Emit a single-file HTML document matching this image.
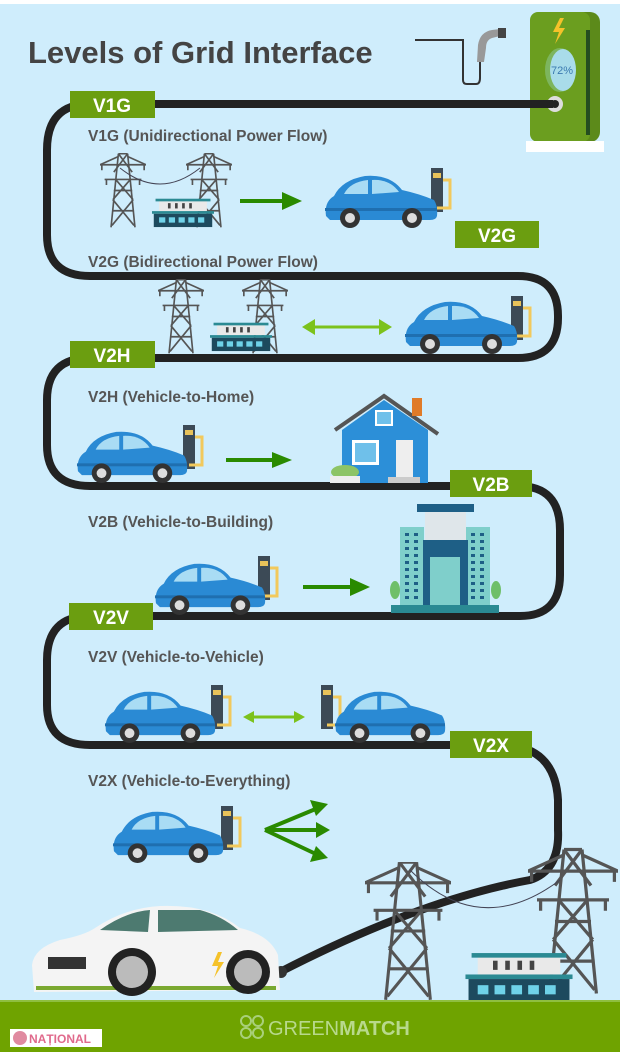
<!DOCTYPE html>
<html><head><meta charset="utf-8"><style>
html,body{margin:0;padding:0;}
body{width:620px;height:1052px;overflow:hidden;background:#cfedfc;font-family:"Liberation Sans",sans-serif;}
svg{display:block}
</style></head><body>
<svg width="620" height="1052" viewBox="0 0 620 1052" xmlns="http://www.w3.org/2000/svg">
<defs>
<symbol id="car" viewBox="0 0 120 56">
 <path d="M6,44 Q4,30 14,24 Q22,8 45,4 Q70,2 82,18 Q100,22 114,28 Q118,34 117,44 Q116,48 110,48 L10,48 Z" fill="#2a8ad4"/>
 <path d="M24,22 Q30,10 48,8 L48,22 Z" fill="#a9dcf4"/>
 <path d="M52,8 Q70,7 79,20 L52,22 Z" fill="#a9dcf4"/>
 <rect x="5" y="36" width="112" height="3" fill="#1f6fb0"/>
 <circle cx="30" cy="46" r="10" fill="#333"/><circle cx="30" cy="46" r="5" fill="#ddd"/>
 <circle cx="92" cy="46" r="10" fill="#333"/><circle cx="92" cy="46" r="5" fill="#ddd"/>
</symbol>
<symbol id="chg" viewBox="0 0 30 60">
 <rect x="8" y="0" width="12" height="44" fill="#3c4a56"/>
 <rect x="10" y="5" width="8" height="5" fill="#e8c25a"/>
 <path d="M20,12 H27 V40 H14" fill="none" stroke="#f2c95c" stroke-width="3"/>
</symbol>
<symbol id="tower" viewBox="0 0 50 80">
 <g stroke="#555" stroke-width="1.8" fill="none">
 <path d="M20,0 L12,80 M30,0 L38,80 M0,12 H50 M5,28 H45 M20,0 H30"/>
 <path d="M20,0 L35,20 M30,0 L15,20 M17,28 L36,50 M33,28 L14,50 M14,50 L37,78 M36,50 L13,78 M0,12 L20,3 M50,12 L30,3 M15,40 H35 M14,62 H37"/>
 <path d="M2,12 v6 M48,12 v6 M7,28 v6 M43,28 v6"/>
 </g>
</symbol>
<symbol id="station" viewBox="0 0 70 34">
 <rect x="8" y="4" width="54" height="12" fill="#e9e9e9"/>
 <rect x="4" y="2" width="62" height="3" fill="#2b8a93"/>
 <g fill="#444"><rect x="18" y="7" width="3" height="6"/><rect x="26" y="7" width="3" height="6"/><rect x="34" y="7" width="3" height="6"/><rect x="42" y="7" width="3" height="6"/></g>
 <rect x="0" y="16" width="70" height="3" fill="#2b8a93"/>
 <rect x="2" y="19" width="66" height="15" fill="#1d4a5e"/>
 <g fill="#6fd2e8"><rect x="8" y="23" width="7" height="6"/><rect x="19" y="23" width="7" height="6"/><rect x="30" y="23" width="7" height="6"/><rect x="41" y="23" width="7" height="6"/><rect x="52" y="23" width="7" height="6"/></g>
</symbol>
</defs>

<rect x="0" y="0" width="620" height="4" fill="#fff"/>

<text x="28" y="63" font-size="31" font-weight="bold" fill="#444">Levels of Grid Interface</text>
<path d="M415,40 H463 V80 Q463,84 467,84 H476 Q480,84 480,78 V62" fill="none" stroke="#333" stroke-width="2"/>
<path d="M477,62 L478,45 Q480,32 492,30 L500,29 V36 L492,38 Q486,40 486,48 L484,62 Z" fill="#999"/>
<rect x="498" y="28" width="8" height="10" fill="#444"/>

<!-- charger -->
<rect x="530" y="12" width="70" height="130" rx="10" fill="#5c8a1a"/>
<rect x="530" y="12" width="60" height="130" rx="8" fill="#6b9e1f"/>
<rect x="586" y="30" width="4" height="105" fill="#244d20"/>
<path d="M560,18 L553,32 H559 L555,44 L565,28 H559 L564,18 Z" fill="#f5c22a"/>
<ellipse cx="560" cy="70" rx="15" ry="22" fill="#7db55e"/>
<ellipse cx="563" cy="70" rx="13" ry="21" fill="#a9dcea"/>
<text x="562" y="74" font-size="11" fill="#3b7ab0" text-anchor="middle">72%</text>
<circle cx="555" cy="104" r="8" fill="#ddd"/><circle cx="555" cy="104" r="4" fill="#222"/>
<rect x="526" y="141" width="78" height="11" fill="#fff"/>

<!-- road -->
<path d="M553,104 H90 Q47,104 47,150 V235 Q47,276 90,276 H518 Q558,276 558,316 V318 Q558,358 518,358 H90 Q47,358 47,400 V445 Q47,486 90,486 H518 Q560,486 560,530 V575 Q560,616 520,616 H90 Q47,616 47,660 V705 Q47,745 90,745 H500 Q555,745 558,800 V830 Q560,870 530,880 Q420,900 280,972" fill="none" stroke="#222" stroke-width="8"/>
<circle cx="281" cy="972" r="6" fill="#333"/>

<!-- labels -->
<g font-weight="bold" font-size="19" fill="#fff" text-anchor="middle">
<rect x="70" y="91" width="85" height="27" fill="#6b9e10"/><text x="112" y="112">V1G</text>
<rect x="455" y="221" width="84" height="27" fill="#6b9e10"/><text x="497" y="242">V2G</text>
<rect x="70" y="341" width="85" height="27" fill="#6b9e10"/><text x="112" y="362">V2H</text>
<rect x="450" y="470" width="82" height="27" fill="#6b9e10"/><text x="491" y="491">V2B</text>
<rect x="69" y="603" width="84" height="27" fill="#6b9e10"/><text x="111" y="624">V2V</text>
<rect x="450" y="731" width="82" height="27" fill="#6b9e10"/><text x="491" y="752">V2X</text>
</g>
<g font-weight="bold" font-size="15.5" fill="#555">
<text x="88" y="141">V1G (Unidirectional Power Flow)</text>
<text x="88" y="267">V2G (Bidirectional Power Flow)</text>
<text x="88" y="402">V2H (Vehicle-to-Home)</text>
<text x="88" y="527">V2B (Vehicle-to-Building)</text>
<text x="88" y="662">V2V (Vehicle-to-Vehicle)</text>
<text x="88" y="786">V2X (Vehicle-to-Everything)</text>
</g>

<!-- V1G -->
<use href="#tower" x="100" y="153" width="46" height="75"/>
<use href="#tower" x="186" y="153" width="46" height="75"/>
<path d="M120,168 Q160,200 200,168" fill="none" stroke="#445" stroke-width="1"/>
<use href="#station" x="152" y="196" width="62" height="32"/>
<path d="M240,201 H285" stroke="#2a8a00" stroke-width="4"/><path d="M282,192 L302,201 L282,210 Z" fill="#2a8a00"/>
<use href="#chg" x="423" y="168" width="30" height="60"/>
<use href="#car" x="320" y="172" width="120" height="56"/>

<!-- V2G -->
<use href="#tower" x="158" y="279" width="46" height="75"/>
<use href="#tower" x="242" y="279" width="46" height="75"/>
<use href="#station" x="210" y="320" width="62" height="32"/>
<path d="M310,327 H385" stroke="#7cc21c" stroke-width="3"/>
<path d="M302,327 L315,319 V335 Z M392,327 L379,319 V335 Z" fill="#7cc21c"/>
<use href="#chg" x="503" y="296" width="30" height="60"/>
<use href="#car" x="400" y="298" width="120" height="56"/>

<!-- V2H -->
<use href="#chg" x="175" y="425" width="30" height="60"/>
<use href="#car" x="72" y="428" width="118" height="55"/>
<path d="M226,460 H275" stroke="#2a8a00" stroke-width="4"/><path d="M272,452 L292,460 L272,468 Z" fill="#2a8a00"/>
<path d="M335,430 L384,396 L438,434" fill="none" stroke="#555" stroke-width="4"/>
<path d="M342,430 L384,400 L428,430 V483 H342 Z" fill="#2c8fd8"/>
<rect x="412" y="398" width="10" height="18" fill="#e07b28"/>
<rect x="375" y="410" width="18" height="16" fill="#fff"/><rect x="377" y="412" width="14" height="12" fill="#6fc0ea"/>
<rect x="352" y="440" width="27" height="25" fill="#fff"/><rect x="355" y="443" width="21" height="19" fill="#6fc0ea"/>
<rect x="396" y="440" width="17" height="38" fill="#eee"/>
<rect x="388" y="477" width="32" height="6" fill="#ccc"/>
<ellipse cx="345" cy="472" rx="14" ry="7" fill="#8dc466"/><rect x="330" y="476" width="30" height="7" fill="#eee"/>

<!-- V2B -->
<use href="#chg" x="250" y="556" width="30" height="60"/>
<use href="#car" x="150" y="560" width="118" height="55"/>
<path d="M303,587 H352" stroke="#2a8a00" stroke-width="4"/><path d="M350,578 L370,587 L350,596 Z" fill="#2a8a00"/>
<rect x="417" y="504" width="57" height="8" fill="#1e5f86"/>
<rect x="425" y="512" width="41" height="28" fill="#dfe6ea"/>
<rect x="400" y="527" width="24" height="80" fill="#7fcfcb"/>
<rect x="466" y="527" width="24" height="80" fill="#7fcfcb"/>
<rect x="423" y="540" width="45" height="67" fill="#1e5f86"/>
<rect x="430" y="557" width="30" height="50" fill="#7fcfcb"/>
<g stroke="#1e5f86" stroke-width="4" stroke-dasharray="3 4">
<path d="M407,533 V602 M416,533 V602 M473,533 V602 M482,533 V602"/>
</g>
<rect x="391" y="605" width="108" height="8" fill="#2a8a93"/>
<ellipse cx="395" cy="590" rx="5" ry="9" fill="#6fbf6a"/><ellipse cx="496" cy="590" rx="5" ry="9" fill="#6fbf6a"/>

<!-- V2V -->
<use href="#chg" x="203" y="685" width="30" height="60"/>
<use href="#car" x="100" y="688" width="118" height="55"/>
<path d="M250,717 H298" stroke="#7cc21c" stroke-width="3"/>
<path d="M243,717 L254,711 V723 Z M305,717 L294,711 V723 Z" fill="#7cc21c"/>
<use href="#chg" x="313" y="685" width="30" height="60"/>
<use href="#car" x="330" y="688" width="118" height="55"/>

<!-- V2X -->
<use href="#chg" x="213" y="806" width="30" height="60"/>
<use href="#car" x="108" y="808" width="118" height="55"/>
<g stroke="#2a8a00" stroke-width="4" fill="none"><path d="M265,830 L318,808 M265,830 H320 M265,830 L318,855"/></g>
<path d="M310,800 L328,804 L316,816 Z M316,822 L330,830 L316,838 Z M310,862 L328,858 L316,846 Z" fill="#2a8a00"/>

<!-- bottom scene -->
<use href="#tower" x="365" y="862" width="86" height="138"/>
<use href="#tower" x="528" y="843" width="90" height="157"/>
<path d="M410,870 Q480,940 560,880" fill="none" stroke="#445" stroke-width="1"/>
<use href="#station" x="455" y="950" width="128" height="52"/>

<!-- white car -->
<path d="M34,992 L32,965 Q34,948 60,940 Q85,935 95,928 Q125,908 160,906 Q210,904 240,928 Q270,935 278,955 L280,990 Z" fill="#f4f4f4"/>
<path d="M100,930 Q125,912 150,910 L148,932 Z M158,910 L200,910 Q222,916 238,930 L158,932 Z" fill="#4d7a70"/>
<rect x="48" y="957" width="38" height="12" fill="#333"/>
<rect x="36" y="986" width="240" height="4" fill="#7aa830"/>
<circle cx="132" cy="972" r="24" fill="#222"/><circle cx="132" cy="972" r="16" fill="#bbb"/>
<circle cx="248" cy="972" r="22" fill="#222"/><circle cx="248" cy="972" r="14" fill="#bbb"/>
<path d="M218,952 L212,966 H218 L214,978 L224,962 H218 L222,952 Z" fill="#f5c22a"/>

<!-- footer -->
<rect x="0" y="1000" width="620" height="52" fill="#6fa300"/>
<rect x="0" y="1000" width="620" height="2" fill="#8fbf40"/>
<g fill="none" stroke="#a9d07a" stroke-width="2"><circle cx="246" cy="1021" r="5"/><circle cx="258" cy="1021" r="5"/><circle cx="246" cy="1033" r="5"/><circle cx="258" cy="1033" r="5"/></g>
<text x="268" y="1035" font-size="20" fill="#b8d98c">GREEN<tspan font-weight="bold">MATCH</tspan></text>
<rect x="10" y="1029" width="92" height="18" fill="#fff"/>
<circle cx="20" cy="1038" r="7" fill="#e08aa0"/>
<text x="29" y="1043" font-size="12" font-weight="bold" fill="#e06a8c">NAȚIONAL</text>
</svg>
</body></html>
